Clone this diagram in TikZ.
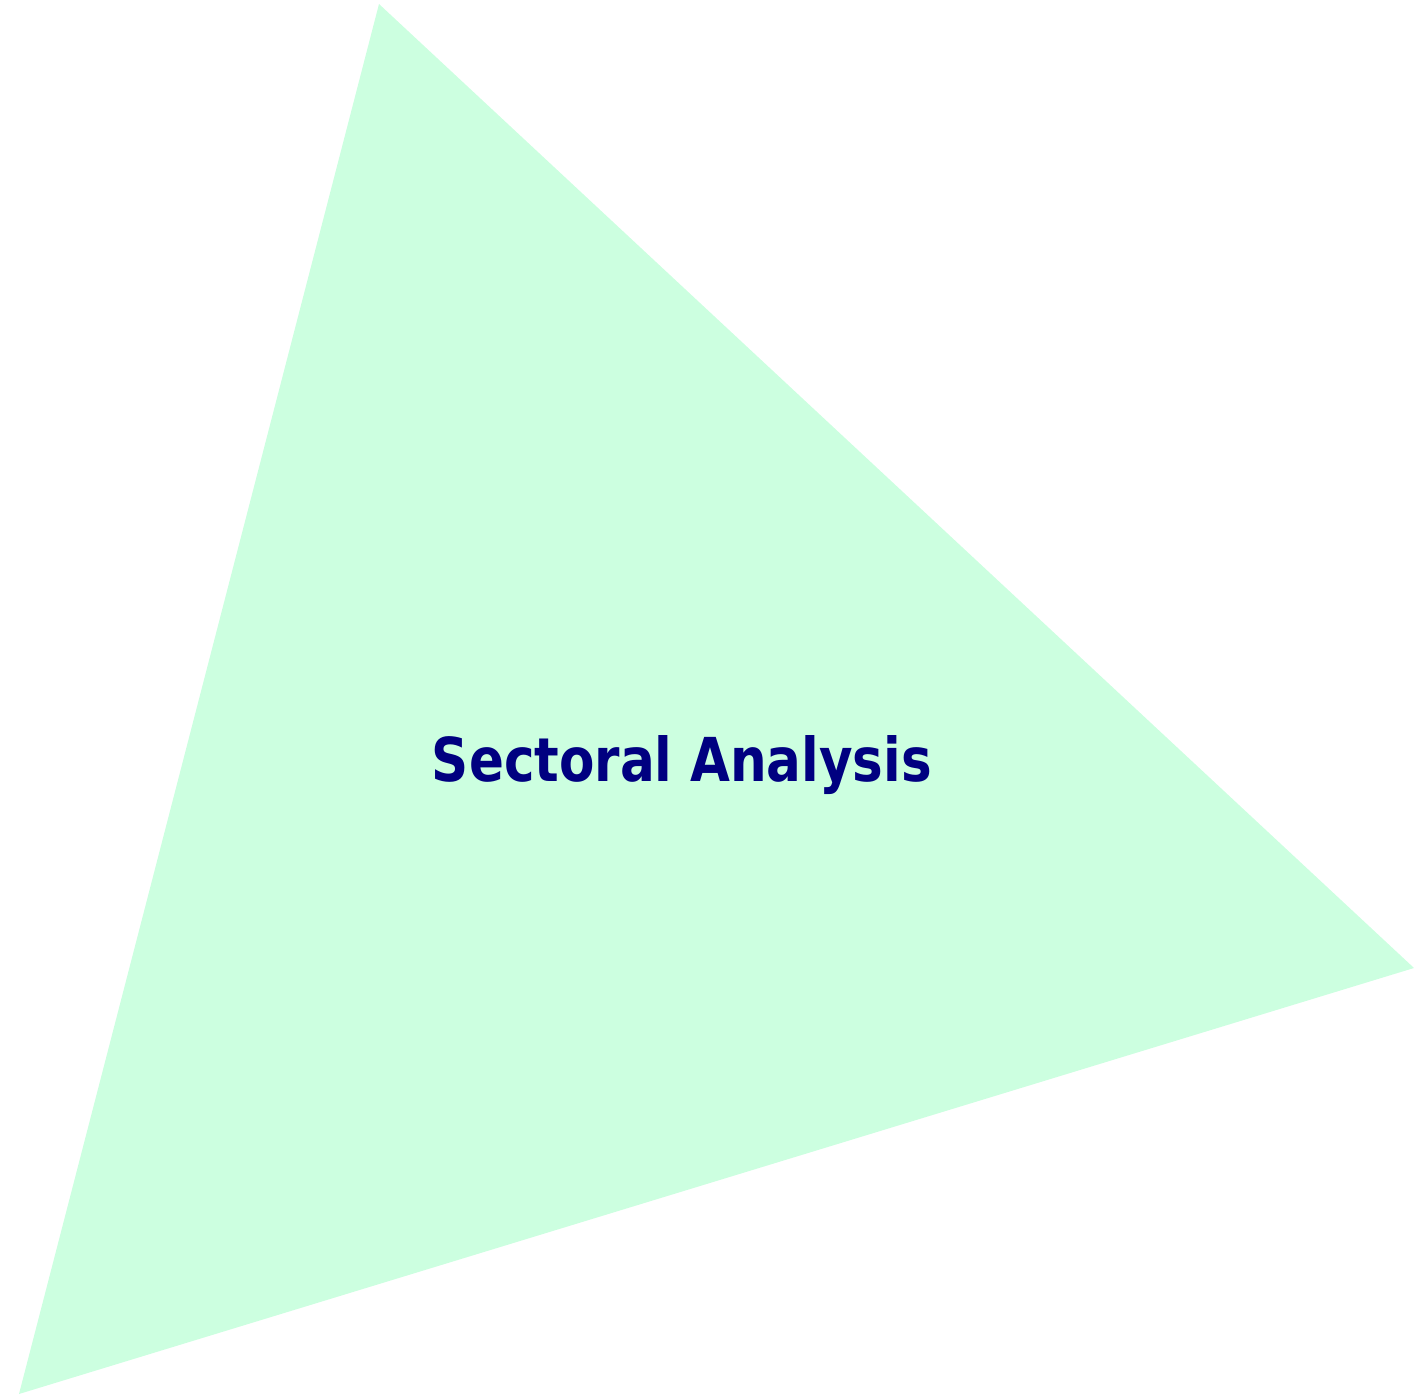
\documentclass[tikz,border=0pt]{standalone}
\usepackage{fontspec}
\newfontfamily\labelfont{DejaVu Sans Condensed}
\definecolor{trifill}{RGB}{204,255,224}
\definecolor{labelnavy}{RGB}{0,0,128}
\tikzset{
  tri/.style={fill=trifill, draw=none},
  sectorlabel/.style={text=labelnavy, font=\labelfont\bfseries, inner sep=0pt}
}
\begin{document}
\begin{tikzpicture}[x=0.5pt,y=-0.5pt]
\useasboundingbox (0,0) rectangle (1414,1395);
\coordinate (top) at (379,4);
\coordinate (right) at (1414,968);
\coordinate (bl) at (19,1394);
\path[tri] (top) -- (right) -- (bl) -- cycle;
\node[sectorlabel, anchor=base] (lbl) at (682,782) {\resizebox{250pt}{23pt}{Sectoral Analysis}};
\end{tikzpicture}
\end{document}
